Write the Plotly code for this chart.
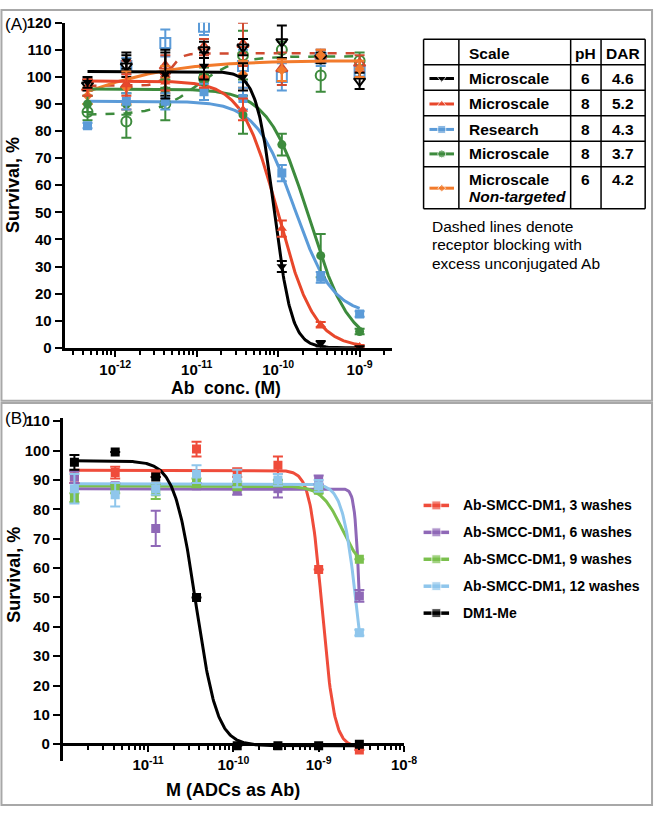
import numpy as np
import plotly.graph_objects as go

W, H = 667, 815
FONT = "Arial, Liberation Sans, sans-serif"

# ---------------- Panel A data ----------------
conc_A = [4.57e-13, 1.37e-12, 4.12e-12, 1.23e-11, 3.70e-11, 1.11e-10, 3.33e-10, 1.0e-9]

a_black = [98, 106, 101, 104, 100, 30, 1.5, 0]
a_black_err = [2, 3, 9, 5, 5, 2, 1, 0.5]
a_red = [96, 97, 98, 100, 88, 44, 8.5, 0.5]
a_red_err = [3, 4, 3, 4, 4, 3, 1, 0.5]
a_blue = [82, 91, 91, 94.5, 92, 64.5, 26, 12.5]
a_blue_err = [1, 3, 3, 3, 4, 3, 2, 1]
a_green = [90, 90, 95, 98, 86, 75, 34, 6]
a_green_err = [3, 4, 4, 3, 7, 4, 8, 1]
a_orange = [93, 96, 99, 100, 101, 102.5, 108, 103]
a_orange_err = [3, 6, 5, 4, 5, 4, 2, 3]

# blocked (open markers, dashed fits)
a_black_blk = [97, 104, 101, 110, 111, 113, 107, 98.5]
a_black_blk_err = [2, 4, 8, 3, 3, 6, 2, 3]
a_blue_blk = [None, 104, 112.5, 118.5, 104, 100, 107, 102]
a_blue_blk_err = [0, 3, 5, 3, 6, 5, 3, 2]
a_green_blk = [87, 83.5, 90, 99.5, 108, 110, 100.5, 106]
a_green_blk_err = [3, 6, 6, 4, 9, 3, 6, 3]
a_red_blk = [96, 97, 104, 111, 112, 103, 108, 105]
a_red_blk_err = [3, 9, 4, 3, 8, 6, 2, 3]

# fit parameters: top, bottom, logEC50, hill slope
fitA_black = [102, 0, -10.05, -4.0]
fitA_red = [98.5, 0, -10.0, -1.95]
fitA_blue = [91, 12, -9.80, -1.85]
fitA_green = [95.5, 0, -9.62, -1.75]
fitA_orange = [106, 80, -12.5, 0.7]
fitA_red_blk = [108.7, 96.7, -11.33, 6.0]
fitA_green_blk = [107.6, 86, -11.0, 1.8]

# ---------------- Panel B data ----------------
conc_B = [1.37e-12, 4.12e-12, 1.23e-11, 3.70e-11, 1.11e-10, 3.33e-10, 1.0e-9, 3.0e-9]

b_w3 = [91, 92.5, 92, 100.5, 92.5, 95, 59.5, -2]
b_w3_err = [2, 2, 1, 2.5, 1.5, 3, 0, 0]
b_w6 = [91, 88, 73.5, 88, 86.5, 87, 90, 50.5]
b_w6_err = [2, 1, 6, 1, 1.5, 3, 1.5, 2]
b_w9 = [84, 87, 86, 89, 88, 89, 86.5, 63]
b_w9_err = [1.5, 1.5, 2.5, 1.5, 1.5, 1, 1, 0]
b_w12 = [87, 85, 87, 92, 90.5, 90, 88, 38]
b_w12_err = [5, 4, 2, 3, 3, 2, 2, 1]
b_dm1 = [96, 99.5, 91, 50, -0.5, -0.5, -0.5, 0]
b_dm1_err = [2.5, 0, 0, 0, 0, 0, 0, 0]

fitB_w3 = [93.3, -1, -8.96, -6.0]
fitB_w6 = [87, 0, -8.515, -15.0]
fitB_w9 = [88, 58, -8.72, -3.5]
fitB_w12 = [88.7, 0, -8.546, -5.1]
fitB_dm1 = [96.5, -0.5, -10.44, -3.5]

# tables / legend text
table_header = ["Scale", "pH", "DAR"]
table_scale = ["Microscale", "Microscale", "Research", "Microscale", "Microscale"]
table_ph = ["6", "8", "8", "8", "6"]
table_dar = ["4.6", "5.2", "4.3", "3.7", "4.2"]
legend_B = ["Ab-SMCC-DM1, 3 washes", "Ab-SMCC-DM1, 6 washes", "Ab-SMCC-DM1, 9 washes",
            "Ab-SMCC-DM1, 12 washes", "DM1-Me"]

# colours
C_BLACK = "#000000"
C_RED = "#E8472B"
C_REDD = "#D04A30"
C_BLUE = "#5B9BD8"
C_GREEN = "#3D8B3D"
C_ORANGE = "#F27B2C"
C_B3 = "#EF4C3B"
C_B6 = "#8F68B7"
C_B9 = "#7BC04D"
C_B12 = "#8FC6EC"


def fx(p):
    return p / W


def fy(p):
    return 1 - p / H


def logistic(logx, p):
    top, bottom, c, h = p
    return bottom + (top - bottom) / (1 + 10 ** ((c - logx) * h))


fig = go.Figure()


def add_fit(conc, p, color, xa, ya, dash="solid", width=3):
    lx = np.linspace(np.log10(min(conc)), np.log10(max(conc)), 400)
    fig.add_trace(go.Scatter(x=10 ** lx, y=logistic(lx, p), mode="lines",
                             line=dict(color=color, width=width, dash=dash),
                             xaxis=xa, yaxis=ya, showlegend=False, hoverinfo="skip"))


def add_pts(conc, y, err, color, symbol, size, xa, ya, lw=0, ecolor=None):
    fig.add_trace(go.Scatter(
        x=conc, y=y, mode="markers",
        marker=dict(symbol=symbol, size=size, color=color,
                    line=dict(color=color, width=lw)),
        error_y=dict(type="data", array=err, visible=True, color=ecolor or color,
                     thickness=2, width=5),
        xaxis=xa, yaxis=ya, showlegend=False))


# ---- Panel A traces ----
add_fit(conc_A, fitA_red_blk, C_REDD, "x", "y", dash="dash", width=2.5)
add_fit(conc_A, fitA_green_blk, C_GREEN, "x", "y", dash="dash", width=2.5)
add_pts(conc_A, a_green_blk, a_green_blk_err, C_GREEN, "circle-open", 10, "x", "y", lw=2)
add_pts(conc_A, a_blue_blk, a_blue_blk_err, C_BLUE, "square-open", 10, "x", "y", lw=2)
add_pts(conc_A, a_red_blk, a_red_blk_err, C_REDD, "triangle-up-open", 10, "x", "y", lw=2)
add_pts(conc_A, a_black_blk, a_black_blk_err, C_BLACK, "triangle-down-open", 10, "x", "y", lw=2)

add_fit(conc_A, fitA_orange, C_ORANGE, "x", "y")
add_fit(conc_A, fitA_green, C_GREEN, "x", "y")
add_fit(conc_A, fitA_blue, C_BLUE, "x", "y")
add_fit(conc_A, fitA_red, C_RED, "x", "y")
add_fit(conc_A, fitA_black, C_BLACK, "x", "y")
add_pts(conc_A, a_orange, a_orange_err, C_ORANGE, "diamond", 8, "x", "y")
add_pts(conc_A, a_green, a_green_err, C_GREEN, "circle", 9, "x", "y")
add_pts(conc_A, a_blue, a_blue_err, C_BLUE, "square", 9, "x", "y")
add_pts(conc_A, a_red, a_red_err, C_RED, "triangle-up", 9, "x", "y")
add_pts(conc_A, a_black, a_black_err, C_BLACK, "triangle-down", 9, "x", "y")

# ---- Panel B traces ----
for p, col in [(fitB_w3, C_B3), (fitB_w6, C_B6), (fitB_w9, C_B9), (fitB_w12, C_B12), (fitB_dm1, C_BLACK)]:
    add_fit(conc_B, p, col, "x2", "y2")
for y, e, col in [(b_w3, b_w3_err, C_B3), (b_w6, b_w6_err, C_B6), (b_w9, b_w9_err, C_B9),
                  (b_w12, b_w12_err, C_B12), (b_dm1, b_dm1_err, C_BLACK)]:
    add_pts(conc_B, y, e, col, "square", 9, "x2", "y2")

# ---- legend symbols (overlay pixel axis) ----
row_y = [71, 97, 123, 148, 183]
sym_A = [("triangle-down", C_BLACK, 8), ("triangle-up", C_RED, 8), ("square", C_BLUE, 8),
         ("circle", C_GREEN, 8), ("diamond", C_ORANGE, 6)]
for (sym, col, sz), yy in zip(sym_A, row_y):
    fig.add_trace(go.Scatter(x=[438, 450.5, 463], y=[yy, yy, yy], mode="lines+markers",
                             line=dict(color=col, width=3),
                             marker=dict(symbol=sym, size=[0, sz, 0], color=col),
                             xaxis="x3", yaxis="y3", showlegend=False, hoverinfo="skip"))
leg_y = [507, 534.5, 562, 589.5, 617]
for col, yy in zip([C_B3, C_B6, C_B9, C_B12, C_BLACK], leg_y):
    fig.add_trace(go.Scatter(x=[432, 445, 458], y=[yy, yy, yy], mode="lines+markers",
                             line=dict(color=col, width=3.5),
                             marker=dict(symbol="square", size=[0, 9, 0], color=col),
                             xaxis="x3", yaxis="y3", showlegend=False, hoverinfo="skip"))

# ---------------- axes ----------------
def minor_vals(lo, hi):
    vals = []
    for d in range(lo, hi):
        for m in range(2, 10):
            vals.append(m * 10.0 ** d)
    return vals


tickfont = dict(family=FONT, size=15, color="black", weight="bold")
axis_common = dict(showgrid=False, zeroline=False, showline=True, linecolor="black",
                   linewidth=3, ticks="outside", tickcolor="black", tickwidth=2,
                   tickfont=tickfont)

yA_rng = [0, 120]
yB_rng = [-5.7, 111]
yB_dom = [fy(768), fy(418)]
xB_pos = yB_dom[0] + (0 - yB_rng[0]) / (yB_rng[1] - yB_rng[0]) * (yB_dom[1] - yB_dom[0])

fig.update_layout(
    width=W, height=H, margin=dict(l=0, r=0, t=0, b=0),
    paper_bgcolor="white", plot_bgcolor="rgba(0,0,0,0)", showlegend=False,
    font=dict(family=FONT, color="black"),
    xaxis=dict(type="log", range=[-12.62, -8.6], domain=[fx(66), fx(400)], anchor="y",
               tickvals=[1e-12, 1e-11, 1e-10, 1e-9],
               ticktext=["10<sup>-12</sup>", "10<sup>-11</sup>", "10<sup>-10</sup>", "10<sup>-9</sup>"],
               ticklen=6,
               minor=dict(tickvals=minor_vals(-13, -8), ticks="outside", ticklen=4,
                          tickwidth=1.5, tickcolor="black"),
               **axis_common),
    yaxis=dict(range=yA_rng, domain=[fy(346), fy(14)], anchor="x", dtick=10, ticklen=7,
               **axis_common),
    xaxis2=dict(type="log", range=[-12, -8], domain=[fx(64), fx(412)], anchor="free",
                position=xB_pos,
                tickvals=[1e-11, 1e-10, 1e-9, 1e-8],
                ticktext=["10<sup>-11</sup>", "10<sup>-10</sup>", "10<sup>-9</sup>", "10<sup>-8</sup>"],
                ticklen=6,
                minor=dict(tickvals=minor_vals(-12, -8), ticks="outside", ticklen=4,
                           tickwidth=1.5, tickcolor="black"),
                **axis_common),
    yaxis2=dict(range=yB_rng, domain=yB_dom, anchor="x2", tickvals=list(range(0, 111, 10)),
                ticklen=7, **axis_common),
    xaxis3=dict(range=[0, W], domain=[0, 1], visible=False, anchor="y3", fixedrange=True),
    yaxis3=dict(range=[H, 0], domain=[0, 1], visible=False, anchor="x3", fixedrange=True),
)

shapes = []
# panel frames
shapes.append(dict(type="rect", xref="paper", yref="paper", x0=fx(1.5), x1=fx(665),
                   y0=fy(400), y1=fy(1), line=dict(color="#A8A8A8", width=2)))
shapes.append(dict(type="rect", xref="paper", yref="paper", x0=fx(1.5), x1=fx(665),
                   y0=fy(813), y1=fy(402.5), line=dict(color="#A8A8A8", width=2)))
# table lines
tb_rows = [31, 57, 83, 109, 135, 161, 204]
tb_cols = [432, 468, 582, 613, 658]
for yy in tb_rows:
    shapes.append(dict(type="line", xref="paper", yref="paper", x0=fx(tb_cols[0]), x1=fx(tb_cols[-1]),
                       y0=fy(yy), y1=fy(yy), line=dict(color="black", width=1.5)))
for xx in tb_cols:
    shapes.append(dict(type="line", xref="paper", yref="paper", x0=fx(xx), x1=fx(xx),
                       y0=fy(tb_rows[0]), y1=fy(tb_rows[-1]), line=dict(color="black", width=1.5)))
fig.update_layout(shapes=shapes)

ann = []


def text(x, y, s, size=14, xanchor="left", angle=0, bold=True):
    ann.append(dict(x=fx(x), y=fy(y), xref="paper", yref="paper", text=s, showarrow=False,
                    xanchor=xanchor, yanchor="middle", textangle=angle,
                    font=dict(family=FONT, size=size, color="black",
                              weight="bold" if bold else "normal")))


text(3, 16, "(A)", size=17, bold=False)
text(3, 418, "(B)", size=17, bold=False)
text(14, 180, "Survival, %", size=18, xanchor="center", angle=-90)
text(14, 578, "Survival, %", size=18, xanchor="center", angle=-90)
text(231, 387.5, "Ab  conc. (M)", size=17.5, xanchor="center")
text(238, 798, "M (ADCs as Ab)", size=18, xanchor="center")

# table text
text(476, 45, table_header[0], size=15.5)
text(597.5, 45, table_header[1], size=15.5, xanchor="center")
text(635.5, 45, table_header[2], size=15.5, xanchor="center")
txt_y = [71, 97, 123, 148, 174]
for i in range(5):
    text(476, txt_y[i], table_scale[i], size=15.5)
    text(597.5, txt_y[i], table_ph[i], size=15.5, xanchor="center")
    text(635.5, txt_y[i], table_dar[i], size=15.5, xanchor="center")
text(476, 192, "<i>Non-targeted</i>", size=15.5)

text(439, 222, "Dashed lines denote", size=15.5, bold=False)
text(439, 241, "receptor blocking with", size=15.5, bold=False)
text(439, 260, "excess unconjugated Ab", size=15.5, bold=False)

for s, yy in zip(legend_B, leg_y):
    text(470, yy, s, size=14)

fig.update_layout(annotations=ann)
fig.write_html(
    "out.html",
    config={"displayModeBar": False},
    post_script="document.documentElement.style.overflow='hidden';"
                "document.body.style.overflow='hidden';document.body.style.margin='0';"
                "var d=document.getElementById('{plot_id}');"
                "d.style.position='fixed';d.style.left='0px';d.style.top='0px';"
                "var vw=window.innerWidth, vh=window.innerHeight;"
                "if(vw>0&&vh>0&&(vw!=%d||vh!=%d)){d.style.width=vw+'px';d.style.height=vh+'px';"
                "Plotly.relayout(d,{width:vw,height:vh});}" % (W, H),
)
